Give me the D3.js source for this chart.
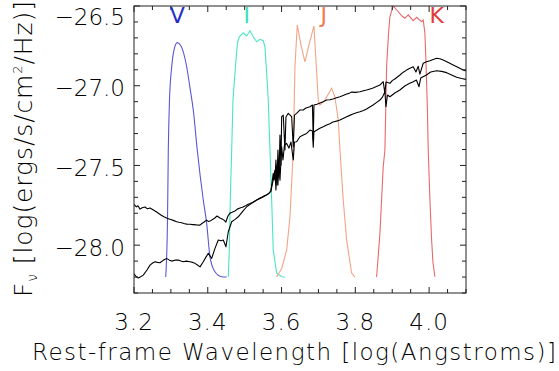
<!DOCTYPE html>
<html>
<head>
<meta charset="utf-8">
<script src="https://cdn.jsdelivr.net/npm/d3@7"></script>
<style>
  html, body { margin: 0; padding: 0; background: #fff; }
  svg { display: block; }
  text { font-family: "DejaVu Sans", sans-serif; font-weight: 200; }
</style>
</head>
<body>
<svg id="chart" width="559" height="371"></svg>
<script>
// x ticks (log wavelength) and y ticks (log flux)
const xTickValues = [3.2, 3.4, 3.6, 3.8, 4.0];
const yTickValues = [-28.0, -27.5, -27.0, -26.5];

// filter band labels and their positions
const bandNames = ['V', 'I', 'J', 'K'];
const bandLabelX = [3.317, 3.5054, 3.7143, 4.0203];
const bandColors = ['#2a2ac8', '#3de0c0', '#f07a4c', '#e23c3c'];
const curveColors = ['#5858d4', '#48e6c4', '#f4a486', '#e66a6a'];

// filter transmission curves, [logλ, value]
const filterV = [
  [3.286, -28.2], [3.2908, -27.843], [3.293, -27.403], [3.2962, -27.09], [3.3022, -26.881],
  [3.3084, -26.776], [3.3173, -26.73], [3.3274, -26.751], [3.3428, -26.881], [3.3518, -27.014],
  [3.3607, -27.152], [3.3715, -27.403], [3.3878, -27.717], [3.397, -27.863], [3.406, -28.073],
  [3.4195, -28.167], [3.4377, -28.198], [3.4512, -28.2]
];
const filterI = [
  [3.4556, -28.2], [3.4583, -28.031], [3.461, -27.717], [3.4648, -27.403], [3.4683, -27.09],
  [3.4764, -26.839], [3.4805, -26.732], [3.4854, -26.693], [3.4962, -26.668], [3.5054, -26.688],
  [3.5144, -26.655], [3.5233, -26.693], [3.5325, -26.724], [3.5415, -26.709], [3.5504, -26.718],
  [3.555, -26.755], [3.5591, -26.902], [3.564, -27.09], [3.5686, -27.403], [3.5732, -27.717],
  [3.5775, -28.031], [3.5867, -28.175], [3.6003, -28.198], [3.6092, -28.2]
];
const filterJ = [
  [3.5867, -28.2], [3.6003, -28.146], [3.6138, -28.031], [3.6228, -27.822], [3.6274, -27.612],
  [3.6317, -27.403], [3.6363, -26.881], [3.6426, -26.619], [3.6526, -26.745], [3.6634, -26.851],
  [3.6743, -26.745], [3.6878, -26.625], [3.6932, -26.839], [3.6995, -27.09], [3.704, -27.121],
  [3.7176, -27.09], [3.7358, -27.016], [3.7447, -27.071], [3.7537, -27.215], [3.7583, -27.403],
  [3.7672, -27.717], [3.7764, -27.968], [3.79, -28.175], [3.7989, -28.2]
];
const filterK = [
  [3.8577, -28.2], [3.8667, -27.926], [3.8756, -27.508], [3.8802, -27.403], [3.8848, -26.881],
  [3.8897, -26.682], [3.8938, -26.567], [3.9027, -26.5], [3.9163, -26.536], [3.9263, -26.563],
  [3.9344, -26.577], [3.9434, -26.556], [3.9569, -26.592], [3.9661, -26.571], [3.9797, -26.598],
  [3.984, -26.588], [3.9886, -26.671], [3.9913, -26.839], [3.9932, -26.985], [3.9954, -27.152],
  [3.9976, -27.403], [4.0022, -27.717], [4.0068, -27.968], [4.0103, -28.106], [4.0157, -28.198]
];

// spectrum A (starts higher at blue end)
const spectrumA = [
  [3.2, -27.745], [3.2063, -27.76], [3.2107, -27.753], [3.2163, -27.774], [3.222, -27.765],
  [3.230, -27.761], [3.2362, -27.772], [3.2434, -27.767], [3.2515, -27.778], [3.2615, -27.792],
  [3.267, -27.801], [3.273, -27.811], [3.281, -27.822], [3.2886, -27.83], [3.295, -27.836],
  [3.300, -27.839], [3.308, -27.846], [3.3157, -27.853], [3.322, -27.856], [3.327, -27.858],
  [3.335, -27.864], [3.3428, -27.868], [3.351, -27.869], [3.360, -27.871], [3.369, -27.873],
  [3.3789, -27.874], [3.384, -27.864], [3.390, -27.855], [3.397, -27.843], [3.402, -27.852],
  [3.406, -27.849], [3.4149, -27.836], [3.420, -27.828], [3.425, -27.817], [3.433, -27.83],
  [3.439, -27.836], [3.444, -27.843], [3.449, -27.855], [3.4547, -27.817], [3.460, -27.799],
  [3.466, -27.794], [3.4737, -27.786], [3.480, -27.774], [3.4873, -27.767], [3.494, -27.762],
  [3.501, -27.755], [3.508, -27.745], [3.5144, -27.739], [3.521, -27.732], [3.528, -27.723],
  [3.535, -27.714], [3.5415, -27.704], [3.547, -27.698], [3.552, -27.692], [3.558, -27.686],
  [3.563, -27.679], [3.567, -27.672], [3.571, -27.661], [3.5775, -27.55], [3.5821, -27.592],
  [3.5848, -27.466], [3.5875, -27.623], [3.5902, -27.403], [3.593, -27.579], [3.5957, -27.309],
  [3.5984, -27.498], [3.6003, -27.194], [3.6046, -27.184], [3.6092, -27.403], [3.6119, -27.196],
  [3.6182, -27.173], [3.6274, -27.194], [3.6317, -27.383], [3.635, -27.184], [3.6409, -27.173],
  [3.6499, -27.152], [3.6588, -27.152], [3.666, -27.14], [3.677, -27.132], [3.6837, -27.121],
  [3.6859, -27.341], [3.6878, -27.121], [3.696, -27.116], [3.704, -27.109], [3.713, -27.1],
  [3.7222, -27.09], [3.731, -27.088], [3.7393, -27.083], [3.749, -27.075], [3.7583, -27.069],
  [3.767, -27.061], [3.7764, -27.052], [3.783, -27.048], [3.790, -27.04], [3.800, -27.042],
  [3.8125, -27.038], [3.822, -27.031], [3.8306, -27.027], [3.840, -27.02], [3.848, -27.014],
  [3.857, -27.005], [3.8667, -26.996], [3.8756, -26.975], [3.8802, -27.048], [3.883, -26.977],
  [3.8938, -26.985], [3.900, -26.968], [3.907, -26.958], [3.914, -26.945], [3.9209, -26.933],
  [3.930, -26.915], [3.939, -26.902], [3.948, -26.89], [3.9569, -26.881], [3.9642, -26.914],
  [3.9705, -26.878], [3.975, -26.927], [3.984, -26.859], [3.993, -26.85], [4.0022, -26.843],
  [4.011, -26.835], [4.0203, -26.828], [4.029, -26.831], [4.0382, -26.839], [4.052, -26.855],
  [4.0653, -26.87], [4.079, -26.886], [4.0924, -26.902], [4.1, -26.908]
];

// spectrum B (starts lower at blue end)
const spectrumB = [
  [3.2, -28.18], [3.2027, -28.188], [3.2072, -28.2], [3.2117, -28.206], [3.218, -28.198],
  [3.2252, -28.188], [3.2352, -28.156], [3.2434, -28.125], [3.2505, -28.112], [3.2569, -28.104],
  [3.263, -28.108], [3.2705, -28.11], [3.279, -28.095], [3.2886, -28.083], [3.296, -28.094],
  [3.3022, -28.1], [3.311, -28.094], [3.3201, -28.093], [3.327, -28.099], [3.3336, -28.104],
  [3.342, -28.1], [3.3518, -28.104], [3.359, -28.108], [3.3653, -28.114], [3.372, -28.124],
  [3.3789, -28.136], [3.3878, -28.104], [3.395, -28.075], [3.4014, -28.051], [3.4106, -28.083],
  [3.4195, -28.02], [3.4285, -27.968], [3.436, -27.972], [3.442, -27.968], [3.4493, -28.01],
  [3.4556, -27.916], [3.4648, -27.853], [3.474, -27.838], [3.4827, -27.822], [3.494, -27.79],
  [3.5054, -27.759], [3.519, -27.738], [3.5325, -27.717], [3.546, -27.702], [3.5596, -27.686],
  [3.566, -27.674], [3.571, -27.661], [3.5775, -27.592], [3.5821, -27.529], [3.5848, -27.654],
  [3.5875, -27.498], [3.5902, -27.623], [3.593, -27.466], [3.5957, -27.592], [3.6003, -27.383],
  [3.6038, -27.466], [3.6079, -27.372], [3.6138, -27.362], [3.62, -27.391], [3.6255, -27.353],
  [3.6317, -27.466], [3.635, -27.353], [3.6409, -27.351], [3.6499, -27.32], [3.6588, -27.309],
  [3.668, -27.299], [3.677, -27.278], [3.6837, -27.284], [3.6859, -27.385], [3.6878, -27.289],
  [3.696, -27.278], [3.704, -27.267], [3.713, -27.258], [3.7222, -27.247], [3.731, -27.238],
  [3.7393, -27.228], [3.749, -27.222], [3.7583, -27.215], [3.767, -27.205], [3.7764, -27.194],
  [3.785, -27.186], [3.7935, -27.178], [3.803, -27.17], [3.8125, -27.163], [3.822, -27.155],
  [3.8306, -27.146], [3.839, -27.134], [3.848, -27.121], [3.857, -27.106], [3.8667, -27.09],
  [3.874, -27.07], [3.8802, -27.038], [3.883, -27.132], [3.887, -27.058], [3.8938, -27.069],
  [3.907, -27.046], [3.9209, -27.027], [3.934, -27.002], [3.9474, -26.985], [3.957, -26.975],
  [3.9655, -26.964], [3.9726, -27.006], [3.9772, -26.952], [3.9927, -26.933], [4.0043, -26.914],
  [4.0203, -26.906], [4.034, -26.91], [4.0474, -26.918], [4.061, -26.932], [4.0745, -26.947],
  [4.088, -26.955], [4.1, -26.96]
];

const svg = d3.select('#chart');
const margin = { left: 134, right: 93, top: 6, bottom: 78 };
const width = 559 - margin.left - margin.right;
const height = 371 - margin.top - margin.bottom;

const x = d3.scaleLinear().domain([3.2, 4.1]).range([0, width]);
const y = d3.scaleLinear().domain([-28.3, -26.5]).range([height, 0]);

svg.append('defs').append('clipPath')
  .attr('id', 'plot-clip')
  .append('rect')
  .attr('width', width)
  .attr('height', height);

const g = svg.append('g')
  .attr('transform', `translate(${margin.left},${margin.top})`);

const plot = g.append('g').attr('clip-path', 'url(#plot-clip)');

const line = d3.line().x(d => x(d[0])).y(d => y(d[1]));
const smoothLine = d3.line().x(d => x(d[0])).y(d => y(d[1])).curve(d3.curveMonotoneX);

// filter curves
const filters = [filterV, filterI, filterJ, filterK];
filters.forEach((f, i) => {
  plot.append('path')
    .attr('d', i === 0 ? smoothLine(f) : line(f))
    .attr('fill', 'none')
    .attr('stroke', curveColors[i])
    .attr('stroke-width', 1.1);
});

// spectra
[spectrumA, spectrumB].forEach(s => {
  plot.append('path')
    .attr('d', line(s))
    .attr('fill', 'none')
    .attr('stroke', '#000')
    .attr('stroke-width', 1.1)
    .attr('stroke-linejoin', 'round');
});

// axis box with inward ticks
const majorLen = 6, minorLen = 4;
const xMinor = d3.range(3.2, 4.1001, 0.05).map(v => +v.toFixed(2));
const yMinor = d3.range(-28.3, -26.4999, 0.1).map(v => +v.toFixed(1));

const axisG = g.append('g').attr('stroke', '#222').attr('stroke-width', 1);
axisG.append('rect')
  .attr('width', width)
  .attr('height', height)
  .attr('fill', 'none');

xMinor.forEach(v => {
  const len = xTickValues.some(t => Math.abs(t - v) < 1e-6) ? majorLen : minorLen;
  axisG.append('line').attr('x1', x(v)).attr('x2', x(v)).attr('y1', height).attr('y2', height - len);
  axisG.append('line').attr('x1', x(v)).attr('x2', x(v)).attr('y1', 0).attr('y2', len);
});
yMinor.forEach(v => {
  const len = yTickValues.some(t => Math.abs(t - v) < 1e-6) ? majorLen : minorLen;
  axisG.append('line').attr('x1', 0).attr('x2', len).attr('y1', y(v)).attr('y2', y(v));
  axisG.append('line').attr('x1', width).attr('x2', width - len).attr('y1', y(v)).attr('y2', y(v));
});

// band labels, drawn over the top axis
g.selectAll('.band-label')
  .data(bandNames)
  .join('text')
  .attr('class', 'band-label')
  .attr('x', (d, i) => x(bandLabelX[i]))
  .attr('y', 16.5)
  .attr('text-anchor', 'middle')
  .style('font-size', '22px')
  .style('font-weight', 400)
  .style('fill', (d, i) => bandColors[i])
  .text(d => d);

// tick labels
g.selectAll('.x-label')
  .data(xTickValues)
  .join('text')
  .attr('class', 'x-label')
  .attr('x', d => x(d))
  .attr('y', 324)
  .attr('text-anchor', 'middle')
  .style('font-size', '23px')
  .style('letter-spacing', '1px')
  .text(d => d.toFixed(1));

g.selectAll('.y-label')
  .data(yTickValues)
  .join('text')
  .attr('class', 'y-label')
  .attr('x', -9)
  .attr('y', d => Math.max(y(d) + 10.5, 19))
  .attr('text-anchor', 'end')
  .style('font-size', '23px')
  .text(d => d.toFixed(1).replace('-', '\u2212'));

// axis titles
svg.append('text')
  .attr('x', 294)
  .attr('y', 360)
  .attr('text-anchor', 'middle')
  .attr('textLength', 524)
  .attr('lengthAdjust', 'spacing')
  .style('font-size', '23px')
  .text('Rest-frame Wavelength [log(Angstroms)]');

const yTitle = svg.append('text')
  .attr('transform', 'translate(32,149) rotate(-90)')
  .attr('text-anchor', 'middle')
  .attr('textLength', 296)
  .attr('lengthAdjust', 'spacing')
  .style('font-size', '25px');
yTitle.append('tspan').text('F');
yTitle.append('tspan').attr('dy', 5).style('font-size', '14px').text('\u03bd');
yTitle.append('tspan').attr('dy', -5).text(' [log(ergs/s/cm');
yTitle.append('tspan').attr('dy', -10).style('font-size', '13px').text('2');
yTitle.append('tspan').attr('dy', 10).text('/Hz)]');
</script>
</body>
</html>
